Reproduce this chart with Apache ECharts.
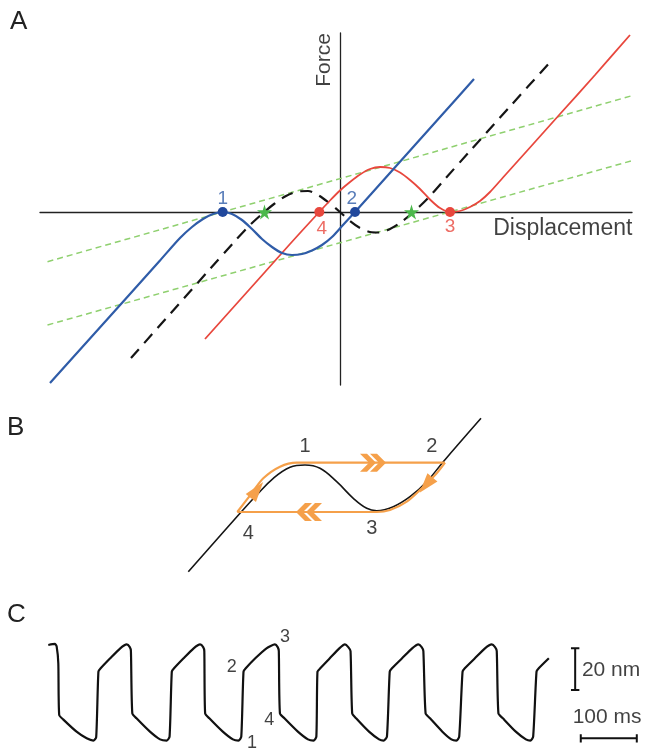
<!DOCTYPE html>
<html>
<head>
<meta charset="utf-8">
<script src="https://cdn.jsdelivr.net/npm/echarts@6/dist/echarts.min.js"></script>
<style>
html, body { margin: 0; padding: 0; background: #fff; }
#chart { width: 648px; height: 751px; }
</style>
</head>
<body>
<div id="chart"></div>
<script>
const FONT = 'Liberation Sans, Arial, Helvetica, sans-serif';

// ---- panel A: force / displacement (arbitrary units, origin at axes crossing)
const blueCurve = [[-29, -17.1], [-25, -12.65], [-21, -8.2], [-18, -4.85], [-16, -2.6], [-14.8, -1.5],
    [-13.7, -0.7], [-12.7, -0.2], [-11.73, 0], [-10.8, -0.2], [-9.8, -0.8], [-8.8, -1.7], [-7.8, -2.7],
    [-6.8, -3.5], [-5.8, -4.1], [-4.8, -4.3], [-3.8, -4.2], [-2.8, -3.85], [-1.8, -3.3], [-0.8, -2.5],
    [0.3, -1.3], [1.5, 0], [4.5, 3.35], [7.5, 6.7], [10.5, 10.05], [13.4, 13.3]];
const redCurve = [[-13.5, -12.7], [-10.5, -9.35], [-7.5, -6.0], [-5, -3.2], [-3.5, -1.55], [-2.07, 0],
    [-1, 1.15], [0, 2.15], [1, 3.0], [2, 3.75], [3, 4.3], [4, 4.5], [5, 4.4], [6, 3.95], [7, 3.2], [8, 2.3],
    [9, 1.25], [10, 0.4], [11, 0], [12, 0.1], [13, 0.5], [14, 1.1], [15, 2.0], [16.3, 3.45], [19, 6.45],
    [22, 9.8], [25.5, 13.7], [29, 17.7]];
const dashedCurve = [[-20.9, -14.6], [-17, -10.2], [-13, -5.7], [-10.5, -2.9], [-9, -1.3], [-7.8, -0.2],
    [-6.6, 0.8], [-5.4, 1.6], [-4.2, 2.05], [-3.2, 2.1], [-2.2, 1.7], [-1.2, 1.0], [0, 0], [1.0, -0.9],
    [2.0, -1.6], [3.0, -2.0], [4.0, -2.05], [5.0, -1.7], [6.0, -1.1], [7.0, -0.3], [8.0, 0.6], [9.0, 1.6],
    [10.5, 3.3], [13, 6.1], [17, 10.55], [21.2, 15.2]];
const greenUpper = [[-29.25, -4.97], [29.2, 11.63]];
const greenLower = [[-29.25, -11.3], [29.2, 5.13]];
const blueDots = [[-11.73, 0], [1.5, 0]];
const redDots = [[-2.07, 0], [11.0, 0]];
const stars = [[-7.55, 0], [7.15, 0]];
const blueTags = [['1', -11.73, 1.37], ['2', 1.17, 1.37]];
const redTags = [['4', -1.83, -1.63], ['3', 11.0, -1.47]];
const forceTag = [['Force', -1.58, 15.2]];
const dispTag = [['Displacement', 29.25, -1.64, 'right']];

// ---- panel B: hysteresis loop
const loopCurve = [[0.83, 0.83], [6.0, 6.67], [7.67, 8.5], [9.33, 10.17], [11.0, 11.27], [12.5, 11.5],
    [14.0, 11.17], [15.67, 9.83], [17.33, 8.17], [18.67, 7.17], [19.67, 6.93], [21.33, 7.33], [23.0, 8.33],
    [24.67, 9.83], [26.33, 11.83], [30.1, 16.17]];
const orangeUp = [[5.73, 6.8], [7.17, 8.67], [8.33, 10.17], [10.0, 11.33], [11.67, 11.73], [26.5, 11.73]];
const orangeDown = [[26.5, 11.73], [25.67, 10.67], [24.33, 9.33], [22.67, 7.83], [21.0, 7.0], [19.67, 6.8],
    [5.73, 6.8]];
const chevronRight = [[19.3, 11.73]];
const chevronLeft = [[12.9, 6.8]];
const arrowUp = [[7.7, 9.0]];
const arrowDown = [[24.6, 9.5]];
const loopTags = [['1', 12.5, 13.33], ['2', 25.17, 13.33], ['3', 19.17, 5.17], ['4', 6.83, 4.67]];

// ---- panel C: time trace (ms, nm)
const trace = [[0.5, 50.4], [12.5, 50.9], [15.5, 49.6], [18.4, 41.6], [20, 16.8], [27, 14.7], [51, 8.8],
    [69, 5.6], [81, 4.5], [86, 6.1], [90, 37.6], [94, 39.2], [111, 44], [129, 48.8], [140.5, 50.7],
    [146, 49.4], [148, 47.5], [150.5, 17.6], [158, 15.2], [182, 8.8], [200, 5.1], [212, 4.5], [217, 6.4],
    [221, 37.6], [225, 39.2], [242, 44], [260, 48.8], [271.5, 50.7],
    [277, 49.4], [279, 47.5], [280.5, 17.6], [288, 15.2], [312, 8.8], [330, 5.1], [340, 4.5], [345, 6.4],
    [349, 37.6], [353, 39.2], [370, 44], [390, 48.8], [405, 50.7],
    [410, 49.4], [412, 47.5], [414, 17.6], [422, 15.2], [446, 8.8], [464, 5.1], [474, 4.5], [479, 6.4],
    [481, 37.6], [486, 39.2], [503, 44], [520, 48.8], [530, 50.7],
    [536, 49.4], [540, 47.5], [543, 17.6], [550, 15.2], [573, 8.8], [591, 5.1], [599, 4.5], [605, 6.4],
    [610, 37.6], [614, 39.2], [632, 44], [650, 48.8], [661, 50.7],
    [667, 49.4], [670, 47.5], [674, 17.6], [682, 15.2], [704, 8.8], [720, 5.1], [729, 4.5], [734, 6.4],
    [740, 37.6], [744, 39.2], [762, 44], [780, 48.8], [792, 50.7],
    [798, 49.4], [801, 47.5], [804, 17.6], [812, 15.2], [835, 8.8], [853, 5.1], [861, 4.5], [866, 6.4],
    [872, 37.6], [876, 39.2], [894, 44]];
const traceTags = [['1', 364, 3.2], ['2', 328, 40], ['3', 423, 54.4], ['4', 395, 14.4]];
// scale bars: 20 nm and 100 ms, pieces split by '-'
const nmBar = [[933.5, 48.8], [948.5, 48.8], '-', [941, 48.8], [941, 28.8], '-', [933.5, 28.8], [948.5, 28.8]];
const msBar = [[951, 3.6], [951, 7.6], '-', [951, 5.6], [1051, 5.6], '-', [1051, 3.6], [1051, 7.6]];
const barTags = [['20 nm', 953, 38.4, 'left'], ['100 ms', 998, 15.6, 'center']];

const chevron2 = 'path://M0,0 L7,0 L16,9 L7,18 L0,18 L9,9 Z M10,0 L17,0 L26,9 L17,18 L10,18 L19,9 Z';
const starPath = 'path://M50,0 L61,35 L98,35 L68,57 L79,91 L50,70 L21,91 L32,57 L2,35 L39,35 Z';

function lineSeries(idx, data, color, width, type, smooth) {
    return {
        type: 'line', xAxisIndex: idx, yAxisIndex: idx, data: data, showSymbol: false, silent: true,
        smooth: smooth || false, connectNulls: false,
        lineStyle: { color: color, width: width, type: type || 'solid' }
    };
}

function tagSeries(idx, tags, color, size, extra) {
    return {
        type: 'scatter', xAxisIndex: idx, yAxisIndex: idx, symbolSize: 0, silent: true, clip: false, z: 5,
        data: tags.map(t => ({ name: t[0], value: [t[1], t[2]], label: t[3] ? { align: t[3] } : undefined })),
        label: Object.assign({
            show: true, position: 'inside', formatter: '{b}', color: color,
            fontSize: size, fontFamily: FONT
        }, extra || {})
    };
}

function markSeries(idx, data, symbol, size, color, rotate) {
    return {
        type: 'scatter', xAxisIndex: idx, yAxisIndex: idx, data: data, symbol: symbol, symbolSize: size,
        symbolRotate: rotate || 0, silent: true, clip: false, z: 4,
        itemStyle: { color: color, opacity: 1 }
    };
}

const hidden = { show: false };
function axisA(min, max, idx) {
    return {
        gridIndex: idx, type: 'value', min: min, max: max,
        axisLine: { show: true, onZero: true, lineStyle: { color: '#222', width: 1.3 } },
        axisTick: hidden, axisLabel: hidden, splitLine: hidden
    };
}
function axisHidden(min, max, idx) {
    return { gridIndex: idx, type: 'value', min: min, max: max, show: false, splitLine: hidden };
}

const letterStyle = { fontSize: 26, fontWeight: 'normal', fontFamily: FONT, color: '#222' };

const option = {
    animation: false,
    backgroundColor: '#fff',
    title: [
        { text: 'A', left: 10, top: 9, padding: 0, textStyle: letterStyle },
        { text: 'B', left: 7, top: 415, padding: 0, textStyle: letterStyle },
        { text: 'C', left: 7, top: 602, padding: 0, textStyle: letterStyle }
    ],
    grid: [
        { left: 40, top: 33, width: 592, height: 352 },
        { left: 180, top: 410, width: 310, height: 170 },
        { left: 48, top: 630, width: 600, height: 120 }
    ],
    xAxis: [axisA(-30, 29.2, 0), axisHidden(0, 31, 1), axisHidden(0, 1071, 2)],
    yAxis: [axisA(-17.3, 17.9, 0), axisHidden(0, 17, 1), axisHidden(0, 57.6, 2)],
    series: [
        lineSeries(0, greenUpper, '#8fd06f', 1.5, [6, 4]),
        lineSeries(0, greenLower, '#8fd06f', 1.5, [6, 4]),
        lineSeries(0, dashedCurve, '#151515', 2.2, [12, 8], 0.3),
        lineSeries(0, redCurve, '#e8473d', 1.8, 'solid', 0.3),
        lineSeries(0, blueCurve, '#2f5ca8', 2.2, 'solid', 0.3),
        markSeries(0, stars, starPath, 15, '#4cb84c'),
        markSeries(0, blueDots, 'circle', 10, '#21489c'),
        markSeries(0, redDots, 'circle', 10, '#e8473d'),
        tagSeries(0, blueTags, '#2f5ca8', 19),
        tagSeries(0, redTags, '#e8473d', 19),
        tagSeries(0, forceTag, '#111', 21, { rotate: 90 }),
        tagSeries(0, dispTag, '#111', 23),

        lineSeries(1, loopCurve, '#151515', 1.6, 'solid', 0.4),
        lineSeries(1, orangeUp, '#f5a04a', 2.2, 'solid', 0.3),
        lineSeries(1, orangeDown, '#f5a04a', 2.2, 'solid', 0.3),
        markSeries(1, chevronRight, chevron2, [26, 18], '#f5a04a', 0),
        markSeries(1, chevronLeft, chevron2, [26, 18], '#f5a04a', 180),
        markSeries(1, arrowUp, 'triangle', [13, 20], '#f5a04a', -38),
        markSeries(1, arrowDown, 'triangle', [13, 20], '#f5a04a', 140),
        tagSeries(1, loopTags, '#111', 20),

        lineSeries(2, trace, '#111', 2.2, 'solid', 0.2),
        lineSeries(2, nmBar, '#111', 2),
        lineSeries(2, msBar, '#111', 2),
        tagSeries(2, traceTags, '#111', 18),
        tagSeries(2, barTags, '#111', 21)
    ]
};

const chart = echarts.init(document.getElementById('chart'), null, { renderer: 'canvas' });
chart.setOption(option);
</script>
</body>
</html>
